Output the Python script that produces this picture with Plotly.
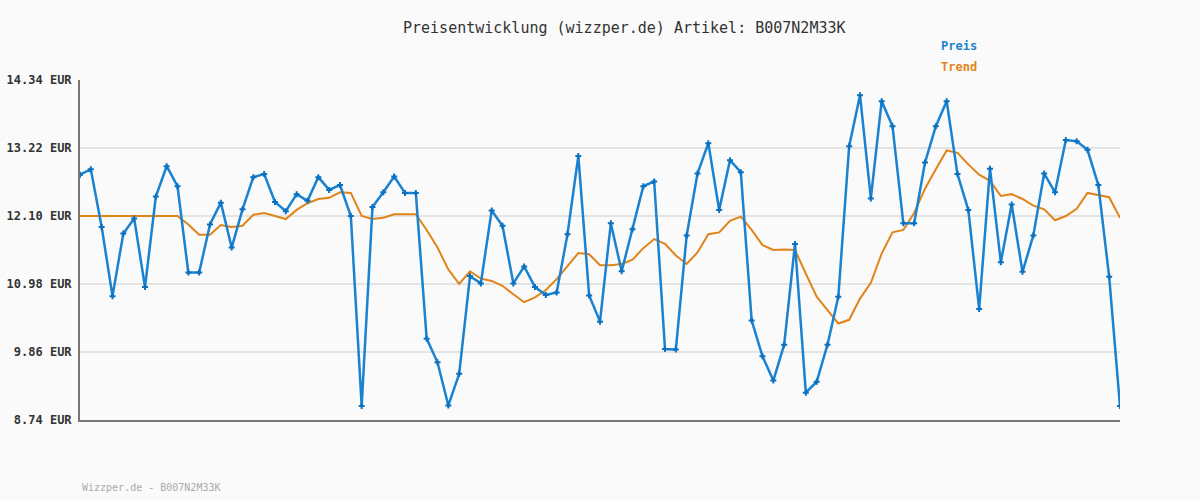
import plotly.graph_objects as go

title_text = "Preisentwicklung (wizzper.de) Artikel: B007N2M33K"
footer_text = "Wizzper.de - B007N2M33K"

preis = [12.78, 12.87, 11.92, 10.78, 11.81, 12.06, 10.93, 12.42, 12.92, 12.59,
         11.17, 11.17, 11.96, 12.32, 11.58, 12.21, 12.74, 12.79, 12.33, 12.18,
         12.46, 12.35, 12.74, 12.53, 12.61, 12.10, 8.97, 12.25, 12.49, 12.75,
         12.48, 12.48, 10.08, 9.69, 8.98, 9.50, 11.11, 10.99, 12.19, 11.94,
         10.99, 11.27, 10.93, 10.80, 10.84, 11.80, 13.09, 10.79, 10.36, 11.98,
         11.19, 11.88, 12.59, 12.67, 9.91, 9.90, 11.78, 12.80, 13.30, 12.20,
         13.02, 12.82, 10.38, 9.79, 9.39, 9.98, 11.64, 9.19, 9.37, 9.98,
         10.77, 13.25, 14.09, 12.39, 13.99, 13.58, 11.98, 11.98, 12.98, 13.58,
         13.99, 12.79, 12.20, 10.57, 12.88, 11.34, 12.29, 11.18, 11.78, 12.80,
         12.49, 13.35, 13.33, 13.19, 12.61, 11.10, 8.97]

trend = [12.10, 12.10, 12.10, 12.10, 12.10, 12.10, 12.10, 12.10, 12.10, 12.10,
         11.96, 11.79, 11.79, 11.95, 11.92, 11.94, 12.12, 12.15, 12.10, 12.05,
         12.20, 12.31, 12.38, 12.40, 12.49, 12.48, 12.10, 12.05, 12.07, 12.13,
         12.13, 12.13, 11.87, 11.58, 11.22, 10.98, 11.19, 11.07, 11.03, 10.95,
         10.81, 10.68, 10.76, 10.88, 11.06, 11.27, 11.49, 11.47, 11.29, 11.29,
         11.31, 11.38, 11.57, 11.72, 11.64, 11.45, 11.31, 11.50, 11.80, 11.83,
         12.02, 12.09, 11.87, 11.62, 11.54, 11.55, 11.54, 11.15, 10.77, 10.55,
         10.33, 10.39, 10.74, 11.00, 11.48, 11.83, 11.87, 12.15, 12.55, 12.87,
         13.18, 13.14, 12.95, 12.78, 12.68, 12.43, 12.46, 12.38, 12.27, 12.21,
         12.03, 12.10, 12.22, 12.48, 12.45, 12.41, 12.07]

x_idx = list(range(len(preis)))

tick_vals = [8.74, 9.86, 10.98, 12.10, 13.22, 14.34]
tick_text = ["<b>%.2f EUR</b>" % v for v in tick_vals]

blue = "#1a82d0"
orange = "#e0841a"
mono = "DejaVu Sans Mono"

fig = go.Figure()
fig.add_trace(go.Scatter(x=x_idx, y=trend, mode="lines", name="Trend",
                         line=dict(color=orange, width=2), hoverinfo="y"))
fig.add_trace(go.Scatter(x=x_idx, y=preis, mode="lines+markers", name="Preis",
                         line=dict(color=blue, width=2.5),
                         marker=dict(symbol="cross", size=5, color="#0a70c0"),
                         hoverinfo="y"))

W, H = 1200, 500
L, R, T, B = 80, 80, 80, 80

fig.update_layout(
    width=W, height=H,
    margin=dict(l=L, r=R, t=T, b=B, autoexpand=False),
    paper_bgcolor="#fafafa", plot_bgcolor="#fafafa",
    showlegend=False,
    xaxis=dict(range=[0, 96], showgrid=False, zeroline=False, showticklabels=False,
               showline=True, linecolor="#777777", linewidth=2, ticks="",
               automargin=False),
    yaxis=dict(range=[8.74, 14.34], tickvals=tick_vals, ticktext=tick_text,
               showgrid=True, gridcolor="#e4e4e4", gridwidth=2, zeroline=False,
               showline=True, linecolor="#777777", linewidth=2, ticks="",
               tickfont=dict(family=mono, size=12, color="#333333"),
               ticklabelstandoff=4, automargin=False),
)

pw, ph = W - L - R, H - T - B
ann_specs = [
    (title_text, 624, 28, "center", mono, 15, "#333333"),
    ("<b>Preis</b>", 939, 46, "left", mono, 12, blue),
    ("<b>Trend</b>", 939, 67, "left", mono, 12, orange),
    (footer_text, 80, 487, "left", mono, 10, "#aaaaaa"),
]
for text, px, py, xa, fam, sz, col in ann_specs:
    fig.add_annotation(text=text, xref="paper", yref="paper",
                       x=(px - L) / pw, y=1 - (py - T) / ph,
                       xanchor=xa, yanchor="middle", showarrow=False,
                       font=dict(family=fam, size=sz, color=col))

fig.write_html("out.html")
